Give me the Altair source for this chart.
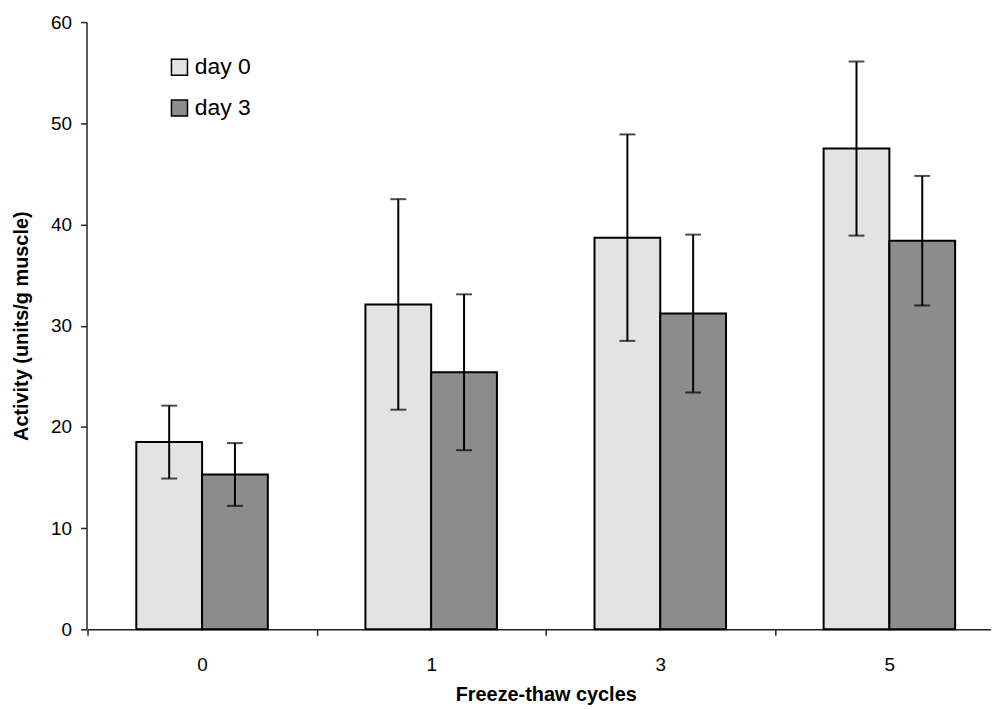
import altair as alt
import pandas as pd

cycles = ["0", "1", "3", "5"]
day0_mean = [18.5, 32.1, 38.7, 47.5]
day0_err = [3.6, 10.4, 10.2, 8.6]
day3_mean = [15.3, 25.4, 31.2, 38.4]
day3_err = [3.1, 7.7, 7.8, 6.4]
series = ["day 0", "day 3"]

rows = []
for i, c in enumerate(cycles):
    rows.append({"cycle": c, "day": "day 0", "v": day0_mean[i],
                 "lo": day0_mean[i] - day0_err[i], "hi": day0_mean[i] + day0_err[i]})
    rows.append({"cycle": c, "day": "day 3", "v": day3_mean[i],
                 "lo": day3_mean[i] - day3_err[i], "hi": day3_mean[i] + day3_err[i]})
df = pd.DataFrame(rows)

xscale = alt.Scale(paddingInner=0, paddingOuter=0, range=[1, 923])
xenc = alt.X("cycle:N", sort=cycles, title="Freeze-thaw cycles", scale=xscale,
             axis=alt.Axis(labelAngle=0, tickBand="extent", tickSize=6,
                           labelPadding=20, titlePadding=11))
xoff = alt.XOffset("day:N", sort=series,
                   scale=alt.Scale(paddingInner=0, paddingOuter=0.742))

bars = alt.Chart(df).mark_bar(stroke="black", strokeWidth=2).encode(
    x=xenc, xOffset=xoff,
    y=alt.Y("v:Q", title="Activity (units/g muscle)",
            scale=alt.Scale(domain=[0, 60], nice=False),
            axis=alt.Axis(values=[0, 10, 20, 30, 40, 50, 60], grid=False,
                          tickSize=6, labelPadding=9, titlePadding=19)),
    fill=alt.Fill("day:N", sort=series,
                  scale=alt.Scale(domain=series, range=["#e3e3e3", "#8c8c8c"]),
                  legend=alt.Legend(title=None, orient="none", legendX=82, legendY=34,
                                    symbolType="square", symbolSize=260,
                                    symbolStrokeColor="black", symbolStrokeWidth=1.5,
                                    labelFontSize=23, labelFont="Liberation Sans",
                                    labelColor="black", rowPadding=17, labelOffset=4)),
)

rule = alt.Chart(df).mark_rule(color="black", strokeWidth=2).encode(
    x=alt.X("cycle:N", sort=cycles), xOffset=xoff, y="lo:Q", y2="hi:Q")
cap_hi = alt.Chart(df).mark_tick(color="black", thickness=2, size=16).encode(
    x=alt.X("cycle:N", sort=cycles), xOffset=xoff, y="hi:Q")
cap_lo = alt.Chart(df).mark_tick(color="black", thickness=2, size=16).encode(
    x=alt.X("cycle:N", sort=cycles), xOffset=xoff, y="lo:Q")

chart = alt.layer(bars, rule, cap_hi, cap_lo).properties(
    width=910, height=611,
    autosize=alt.AutoSizeParams(type="none"),
    padding={"left": 79, "top": 12, "right": 0, "bottom": 78},
).configure_view(stroke=None).configure_axis(
    domainColor="#222", domainWidth=1.5, tickColor="#222", tickWidth=1.5,
    labelFont="Liberation Sans", labelFontSize=19, labelColor="black",
    titleFont="Liberation Sans", titleFontSize=20, titleFontWeight="bold", titleColor="black",
)

chart.save("out.html", embed_options={"renderer": "svg", "actions": False})
